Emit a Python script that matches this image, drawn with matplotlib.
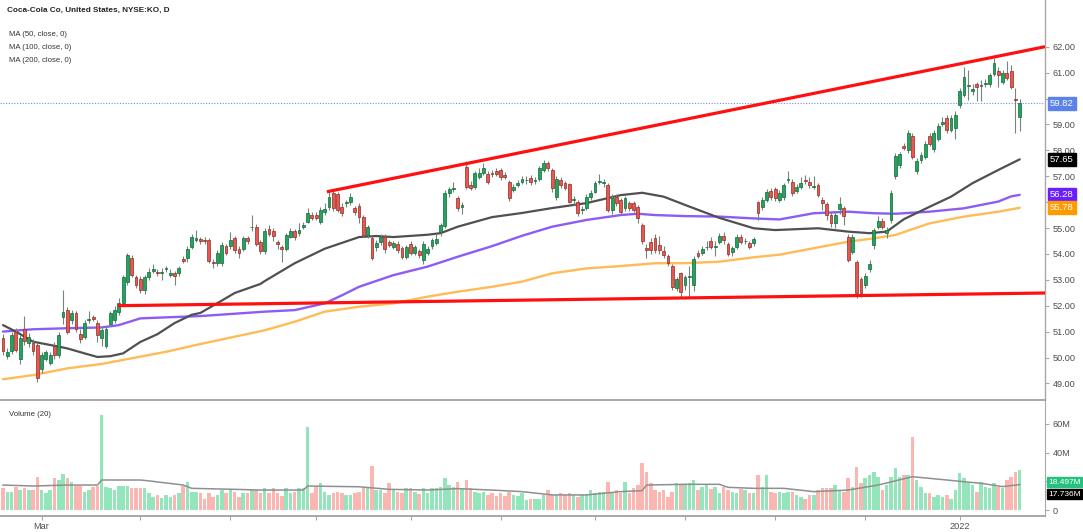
import matplotlib
matplotlib.use('Agg')
import matplotlib.pyplot as plt
import matplotlib.transforms as mtransforms
import numpy as np

# ---------------- data ----------------
title = "Coca-Cola Co, United States, NYSE:KO, D"
legend_lines = ["MA (50, close, 0)", "MA (100, close, 0)", "MA (200, close, 0)"]

opens = [
    50.75, 50.05, 50.25, 51.0, 49.95, 51.1, 50.55, 50.55, 50.5, 49.55,
    49.95, 49.8, 50.45, 50.1, 51.55, 51.85, 51.45, 51.7, 50.9, 50.8,
    51.45, 51.55, 51.35, 50.75, 50.45, 51.3, 51.45, 51.75, 52.1, 52.9,
    53.85, 53.1, 53.05, 52.6, 53.1, 53.35, 53.3, 53.28, 53.42, 53.2,
    53.25, 53.25, 53.82, 53.84, 54.28, 54.55, 54.56, 54.55, 54.55, 53.7,
    53.63, 53.63, 54.3, 54.3, 54.6, 54.2, 54.18, 54.6, 55.02, 55.05,
    54.45, 54.1, 54.95, 54.9, 54.45, 54.28, 54.2, 54.67, 54.87, 54.8,
    55.05, 55.25, 55.5, 55.5, 55.25, 55.6, 55.8, 56.34, 56.3, 55.83,
    55.95, 56.0, 55.76, 55.85, 55.44, 54.73, 54.6, 54.28, 54.45, 54.67,
    54.47, 54.28, 54.38, 54.22, 53.87, 54.38, 54.02, 54.1, 53.77, 54.02,
    54.3, 54.44, 54.86, 55.08, 56.34, 56.5, 56.15, 55.8, 57.37, 56.66,
    56.6, 56.96, 57.14, 57.09, 57.11, 57.19, 57.24, 57.05, 56.79, 56.47,
    56.67, 56.79, 56.84, 56.92, 56.8, 56.88, 57.24, 57.5, 57.24, 56.2,
    56.85, 56.72, 56.68, 56.08, 56.0, 55.68, 55.76, 56.21, 56.4, 56.78,
    56.72, 56.66, 55.7, 56.2, 56.08, 55.76, 55.95, 55.95, 55.82, 55.1,
    54.23, 54.47, 54.6, 54.35, 54.1, 53.9, 53.53, 52.7, 53.25, 52.8,
    53.12, 52.8, 54.05, 54.05, 54.25, 54.51, 54.27, 54.47, 54.69, 54.38,
    54.08, 54.28, 54.66, 54.48, 54.41, 54.41, 56.01, 55.82, 56.1, 56.43,
    56.5, 56.08, 56.21, 56.86, 56.79, 56.44, 56.6, 56.87, 56.79, 56.6,
    56.66, 56.08, 55.93, 55.5, 55.18, 55.72, 55.76, 54.67, 54.09, 53.7,
    53.02, 52.8, 53.4, 54.35, 55.05, 55.28, 54.8, 55.31, 57.0, 57.43,
    58.15, 58.0, 58.55, 57.21, 57.63, 57.73, 58.55, 58.04, 58.42, 59.02,
    59.24, 58.78, 58.85, 59.75, 60.14, 60.5, 60.3, 60.56, 60.5, 60.56,
    60.56, 60.95, 61.07, 60.65, 61.0, 61.07, 60.0, 59.3,
]
closes = [
    50.25, 50.2, 50.85, 50.3, 50.75, 50.65, 50.8, 50.25, 49.2, 50.1,
    50.2, 50.1, 50.1, 50.85, 51.75, 51.0, 51.7, 51.1, 50.7, 51.35,
    51.5, 51.5, 50.85, 51.05, 51.1, 51.7, 51.85, 52.1, 53.1, 53.95,
    53.2, 52.8, 52.6, 53.1, 53.3, 53.4, 53.25, 53.3, 53.45, 53.25,
    53.15, 53.45, 53.74, 54.2, 54.65, 54.63, 54.51, 54.5, 53.73, 53.63,
    54.05, 54.34, 54.05, 54.55, 54.15, 54.03, 54.6, 54.5, 55.05, 54.4,
    54.1, 54.9, 54.78, 54.7, 54.4, 54.2, 54.72, 54.87, 54.67, 54.93,
    55.1, 55.57, 55.4, 55.4, 55.7, 55.75, 56.2, 55.76, 55.7, 55.57,
    56.0, 56.21, 55.63, 55.44, 54.73, 55.03, 53.83, 54.44, 54.64, 54.17,
    54.35, 54.41, 54.15, 53.87, 54.25, 54.02, 54.28, 53.96, 54.4, 54.2,
    54.52, 54.57, 55.12, 56.34, 56.5, 56.55, 55.76, 55.9, 56.6, 56.53,
    57.11, 57.14, 57.31, 56.79, 57.1, 57.09, 56.96, 56.98, 56.15, 56.57,
    56.73, 56.88, 56.86, 56.76, 56.86, 57.3, 57.52, 57.3, 56.53, 56.88,
    56.66, 56.53, 56.02, 56.12, 55.56, 55.72, 56.21, 56.36, 56.72, 56.8,
    56.78, 55.7, 56.15, 55.95, 55.63, 56.15, 55.76, 55.7, 55.37, 54.5,
    54.15, 54.15, 54.15, 54.15, 53.95, 53.63, 52.73, 53.02, 52.54, 53.12,
    53.16, 53.8, 53.92, 54.17, 54.28, 54.28, 54.3, 54.69, 54.54, 53.99,
    54.24, 54.66, 54.47, 54.5, 54.28, 54.56, 55.56, 56.1, 56.4, 56.2,
    56.15, 56.34, 56.66, 56.9, 56.36, 56.57, 56.75, 56.83, 56.66, 56.63,
    56.27, 55.95, 55.5, 55.18, 55.5, 55.93, 55.46, 53.77, 54.64, 52.5,
    52.48, 53.15, 53.6, 54.92, 55.28, 55.05, 54.92, 56.36, 57.78, 57.86,
    58.1, 58.68, 57.75, 57.6, 57.82, 58.24, 58.24, 58.68, 58.94, 59.1,
    58.78, 59.24, 59.36, 60.3, 60.82, 60.52, 60.35, 60.46, 60.52, 60.61,
    60.9, 61.38, 60.91, 60.99, 60.78, 60.46, 59.95, 59.82,
]
highs = [
    50.9, 50.35, 51.0, 51.15, 50.85, 51.6, 50.95, 50.7, 50.55, 50.2,
    50.3, 50.2, 50.6, 51.0, 52.6, 51.95, 51.85, 51.8, 51.1, 51.45,
    51.8, 51.65, 51.45, 51.15, 51.2, 51.8, 52.0, 52.3, 53.2, 54.05,
    53.95, 53.2, 53.15, 53.2, 53.45, 53.6, 53.4, 53.45, 53.55, 53.4,
    53.35, 53.55, 53.9, 54.3, 54.75, 54.92, 54.65, 54.65, 54.6, 53.8,
    54.15, 54.45, 54.4, 54.85, 54.7, 54.3, 54.7, 54.7, 55.5, 55.15,
    54.55, 55.0, 55.1, 55.0, 54.55, 54.35, 54.8, 55.0, 54.95, 55.18,
    55.25, 55.78, 55.6, 55.6, 55.8, 55.95, 56.45, 56.45, 56.4, 55.95,
    56.1, 56.35, 55.85, 55.95, 55.5, 55.1, 54.7, 54.55, 54.75, 54.78,
    54.55, 54.5, 54.48, 54.3, 54.35, 54.48, 54.35, 54.2, 54.5, 54.3,
    54.6, 54.75, 55.2, 56.45, 56.6, 56.78, 56.25, 56.0, 57.6, 56.8,
    57.2, 57.3, 57.5, 57.2, 57.25, 57.3, 57.3, 57.15, 56.85, 56.7,
    56.85, 57.0, 57.0, 57.05, 56.95, 57.4, 57.62, 57.6, 57.3, 57.0,
    56.95, 56.8, 56.75, 56.25, 56.1, 55.85, 56.3, 56.45, 56.8, 57.1,
    56.9, 56.75, 56.3, 56.3, 56.15, 56.25, 56.05, 56.05, 55.9, 55.2,
    54.4, 54.6, 54.75, 54.7, 54.3, 54.0, 53.6, 53.1, 53.3, 53.2,
    53.55, 53.9, 54.15, 54.3, 54.5, 54.65, 54.5, 54.8, 54.85, 54.45,
    54.3, 54.75, 54.75, 54.6, 54.5, 54.65, 56.05, 56.2, 56.5, 56.55,
    56.6, 56.45, 56.75, 57.2, 56.9, 56.7, 56.95, 57.05, 56.95, 57.0,
    56.75, 56.2, 56.0, 55.6, 55.6, 56.2, 55.85, 54.75, 54.75, 53.75,
    53.1, 53.25, 53.75, 55.0, 55.45, 55.4, 55.05, 56.45, 57.9, 57.95,
    58.3, 58.8, 58.65, 57.7, 57.95, 58.35, 58.65, 58.8, 59.05, 59.3,
    59.35, 59.35, 59.5, 60.4, 61.2, 61.1, 60.55, 60.65, 60.7, 60.75,
    61.0, 61.55, 61.2, 61.1, 61.46, 61.3, 60.4, 60.0,
]
lows = [
    50.1, 49.95, 50.15, 50.2, 49.75, 50.5, 50.4, 50.1, 49.05, 49.4,
    49.85, 49.7, 49.95, 50.0, 51.3, 50.9, 51.3, 51.0, 50.55, 50.7,
    51.35, 51.4, 50.6, 50.45, 50.35, 51.2, 51.35, 51.65, 52.0, 52.8,
    53.1, 52.7, 52.5, 52.45, 53.0, 53.25, 53.15, 53.0, 53.3, 53.1,
    52.8, 53.15, 53.65, 53.7, 54.2, 54.45, 54.4, 54.4, 53.65, 53.45,
    53.55, 53.55, 53.95, 54.2, 54.05, 53.85, 54.1, 54.4, 54.9, 54.3,
    54.0, 54.0, 54.7, 54.5, 54.2, 53.7, 54.1, 54.6, 54.55, 54.7,
    54.95, 55.2, 55.3, 55.3, 55.15, 55.5, 55.7, 55.65, 55.6, 55.45,
    55.8, 55.9, 55.5, 55.2, 54.65, 54.6, 53.75, 54.1, 54.35, 54.05,
    54.25, 54.2, 54.05, 53.8, 53.8, 53.95, 53.95, 53.85, 53.6, 53.95,
    54.2, 54.35, 54.7, 55.0, 56.2, 56.4, 55.65, 55.55, 56.5, 56.45,
    56.5, 56.9, 57.05, 56.7, 56.95, 57.0, 56.85, 56.9, 56.05, 56.4,
    56.6, 56.7, 56.7, 56.65, 56.7, 56.8, 57.15, 57.2, 56.4, 56.1,
    56.55, 56.45, 55.95, 55.9, 55.45, 55.55, 55.7, 56.1, 56.35, 56.7,
    56.6, 55.6, 55.55, 55.85, 55.5, 55.65, 55.65, 55.6, 55.2, 54.4,
    53.85, 54.0, 54.05, 54.0, 53.85, 53.55, 52.6, 52.55, 52.35, 52.6,
    52.3, 52.55, 53.85, 53.95, 54.15, 54.2, 53.9, 54.4, 54.4, 53.9,
    53.9, 54.2, 54.4, 54.4, 54.2, 54.3, 55.3, 55.7, 56.0, 56.1,
    56.05, 56.0, 56.1, 56.75, 56.25, 56.35, 56.5, 56.7, 56.55, 56.5,
    56.2, 55.7, 55.3, 55.05, 54.99, 55.55, 55.1, 53.7, 54.0, 52.3,
    52.35, 52.7, 53.3, 54.2, 54.95, 54.95, 54.6, 55.2, 56.9, 57.3,
    58.0, 57.9, 57.65, 57.1, 57.5, 57.65, 58.15, 57.95, 58.35, 58.95,
    58.65, 58.7, 58.45, 59.65, 60.05, 59.95, 60.15, 59.9, 59.9, 60.45,
    60.45, 60.85, 60.45, 60.55, 60.7, 60.35, 58.65, 58.76,
]
# volume in millions
volumes = [
    15, 12.8, 12.8, 16, 14, 15, 14, 14, 23, 14,
    11.6, 14, 22, 21, 25, 22, 19.5, 17, 17, 12.8,
    14, 16, 17, 66, 16, 15.6, 14, 16.5, 16.5, 17,
    15, 15, 15.6, 15, 11.6, 9.3, 10.5, 8.1, 10.5, 9.3,
    10.5, 11.6, 17, 19.5, 12.8, 12.8, 12, 8, 11.6, 9.3,
    10.5, 14, 11.6, 14, 12.8, 9.3, 11.6, 11.6, 14, 14,
    11.6, 15, 12, 15, 11.6, 9.8, 15, 11.6, 12.8, 15,
    15, 58, 11.6, 16, 18.6, 12.8, 10.5, 11.6, 12.8, 12,
    10.5, 10.5, 11.6, 12.8, 15, 15, 31, 14, 14, 11.6,
    19, 14, 12.8, 11.6, 15, 15, 12.8, 11, 15, 11.6,
    15, 15, 16, 22, 17.4, 16, 19.7, 15, 21, 15.6,
    12.8, 12, 12.8, 10.5, 11.6, 9.8, 11.6, 9.8, 12.8, 10.5,
    9.8, 11.6, 7, 8, 7.5, 8, 10.5, 14, 10.5, 10.5,
    11.6, 10.5, 11.6, 10.5, 9.3, 10.5, 10.5, 14, 11.6, 12.8,
    12.8, 19.7, 11.6, 14, 11.6, 19.7, 11.6, 15, 17.4, 33,
    26.7, 18.6, 14, 12.8, 14, 9.3, 12.8, 19, 17.4, 17.4,
    18.6, 21, 14, 16, 17.4, 14.4, 16, 11.6, 16, 14,
    12.8, 12, 14.4, 14, 11.6, 11.6, 24.4, 16, 24.4, 12.8,
    11.6, 12.8, 12, 12.8, 12.8, 10.5, 9.3, 8, 10.5, 10.5,
    14, 15, 15, 15.6, 17.4, 14, 12.8, 22, 16.3, 30.2,
    18.6, 22, 24.4, 26.7, 23.2, 14, 17.4, 23.2, 29, 23.2,
    24.4, 24.4, 51, 20.9, 16.3, 11.6, 11.6, 9.3, 10.5, 9.3,
    10.5, 8, 14, 25.6, 22, 18.6, 17.4, 12.8, 19.7, 16.3,
    15, 18.6, 16.3, 15, 20.9, 23.2, 26.7, 27.9,
]

# moving averages (bar index, value)
ma50_idx = [0, 3, 7, 13, 15, 19, 22, 25, 28, 32, 36, 40, 44, 46, 50, 54, 60, 61, 68, 75,
            83, 87, 91, 99, 102, 106, 114, 121, 128, 136, 144, 149, 154, 159, 167, 175,
            180, 190, 197, 202, 206, 210, 216, 221, 226, 232, 237]
ma50_val = [51.25, 51.0, 50.61, 50.42, 50.35, 50.16, 50.02, 50.05, 50.16, 50.6, 50.9, 51.33,
            51.65, 51.72, 52.1, 52.49, 52.84, 52.95, 53.64, 54.2, 54.65, 54.69, 54.65, 54.74,
            54.8, 55.05, 55.42, 55.58, 55.77, 55.96, 56.27, 56.36, 56.21, 55.89, 55.39, 54.99,
            54.92, 54.99, 54.86, 54.8, 54.86, 55.34, 55.82, 56.21, 56.73, 57.24, 57.65]
ma100_idx = [0, 7, 15, 23, 27, 32, 38, 46, 61, 68, 75, 79, 83, 91, 99, 106, 114, 121, 128,
             136, 144, 148, 152, 159, 167, 175, 181, 189, 197, 203, 208, 216, 224, 232, 235, 237]
ma100_val = [51.0, 51.09, 51.13, 51.16, 51.25, 51.51, 51.55, 51.6, 51.77, 51.83, 52.09, 52.4,
             52.73, 53.18, 53.51, 53.89, 54.3, 54.7, 55.05, 55.31, 55.5, 55.55, 55.5, 55.46,
             55.44, 55.37, 55.33, 55.57, 55.63, 55.57, 55.55, 55.63, 55.76, 56.02, 56.22, 56.28]
ma200_idx = [0, 7, 15, 23, 30, 38, 46, 61, 68, 75, 83, 91, 99, 106, 114, 121, 128, 136, 144,
             152, 159, 167, 175, 181, 189, 197, 203, 208, 216, 224, 232, 237]
ma200_val = [49.16, 49.32, 49.58, 49.75, 49.97, 50.22, 50.52, 51.05, 51.38, 51.77, 51.96,
             52.09, 52.35, 52.54, 52.73, 52.93, 53.25, 53.44, 53.53, 53.64, 53.64, 53.7, 53.87,
             53.97, 54.22, 54.47, 54.6, 54.73, 55.18, 55.44, 55.63, 55.78]
volma_idx = [0, 7, 15, 22, 23, 32, 34, 42, 44, 54, 60, 70, 71, 83, 90, 99, 106, 114, 121, 128,
             136, 144, 149, 150, 159, 167, 169, 175, 182, 189, 197, 204, 212, 220, 224, 228,
             233, 237]
volma_val = [17.4, 16.7, 17.4, 17.4, 20.9, 20.9, 20.3, 17.4, 15.1, 14.4, 13.9, 13.9, 16.7,
             16.2, 14.4, 13.9, 14.9, 13.9, 12.8, 10.5, 10.5, 12.8, 13.5, 17.4, 17.9, 17.9, 15.8,
             15.1, 15.1, 12.8, 13.9, 17.4, 23.2, 20.9, 19.7, 18.6, 16.3, 17.7]

# drawn trend lines (bar index, price)
resistance_idx = [75.5, 242.9]
resistance_val = [56.4, 62.0]
support_idx = [26.8, 242.9]
support_val = [52.0, 52.49]

last_price = 59.82
ma_last = [57.65, 56.28, 55.78]
vol_last = 18.497
volma_last = 17.736

price_ticks = [49, 50, 51, 52, 53, 54, 55, 56, 57, 58, 59, 60, 61, 62]
hidden_price_ticks = [56, 60]          # covered by the value labels in the reference
vol_ticks = [0, 20, 40, 60]
vol_tick_labels = ['0', '', '40M', '60M']   # 20M is covered by the volume label
month_tick_idx = [9, 32, 53, 73, 95, 116, 138, 159, 180, 201, 223]
month_tick_labels = ['Mar', '', '', '', '', '', '', '', '', '', '2022']

# ---------------- styling ----------------
plt.rcParams['font.family'] = ['Liberation Sans', 'DejaVu Sans']
GREEN_B, GREEN_E = '#22a45c', '#13673a'
RED_B, RED_E = '#e9574f', '#8e2b26'
WICK = '#74857c'
VOL_G, VOL_R = '#94e4bc', '#fcb6b2'
AX_GRAY = '#a8a8a8'
LBL = '#4d4d4d'

W, H = 1083, 532
fig = plt.figure(figsize=(W / 100, H / 100), dpi=100)
right_px = 1045
axp = fig.add_axes([0, 1 - 400 / H, right_px / W, 400 / H])
axv = fig.add_axes([0, 1 - 516 / H, right_px / W, 115 / H])

idx = np.arange(len(opens))
o = np.array(opens); c = np.array(closes)
h = np.array(highs); l = np.array(lows)
up = c >= o

xlim = (-0.7, 242.9)

# ---- price panel ----
axp.plot(ma200_idx, ma200_val, color='#ffbb55', lw=1.7, zorder=1.5, solid_capstyle='round')
axp.plot(ma100_idx, ma100_val, color='#8c5cf7', lw=1.7, zorder=1.6, solid_capstyle='round')
axp.plot(ma50_idx, ma50_val, color='#505050', lw=1.6, zorder=1.7, solid_capstyle='round')

axp.vlines(idx, l, h, colors=WICK, lw=0.8, zorder=2)
body_h = np.maximum(np.abs(c - o), 0.025)
axp.bar(idx, body_h, bottom=np.minimum(o, c), width=0.66,
        color=np.where(up, GREEN_B, RED_B), edgecolor=np.where(up, GREEN_E, RED_E),
        linewidth=0.5, zorder=3)

axp.plot(resistance_idx, resistance_val, color='#ff1010', lw=2.3, zorder=4, solid_capstyle='butt')
axp.plot(support_idx, support_val, color='#ff1010', lw=2.3, zorder=4, solid_capstyle='butt')
axp.axhline(last_price, color='#6f8fea', lw=0.8, ls=(0, (1, 1.5)), zorder=1.4)

axp.set_xlim(*xlim)
axp.set_ylim(62 - (400 - 46.7) / 25.9, 62 + 46.7 / 25.9)
axp.yaxis.tick_right()
axp.set_yticks(price_ticks)
axp.set_yticklabels(['' if t in hidden_price_ticks else f"{t:.2f}" for t in price_ticks])
axp.tick_params(axis='y', direction='out', length=3, width=0.8, pad=2.5,
                labelsize=6.6, colors=AX_GRAY, labelcolor=LBL)
axp.set_xticks([])
for s in ['top', 'left']:
    axp.spines[s].set_visible(False)
axp.spines['right'].set_color(AX_GRAY)
axp.spines['right'].set_linewidth(1.0)
axp.spines['bottom'].set_color('#9a9a9a')
axp.spines['bottom'].set_linewidth(1.2)

tr_p = mtransforms.blended_transform_factory(axp.transAxes, axp.transData)
def value_box(ax, tr, y, text, color, size=6.8, x=1.0045, pad=0.22):
    ax.text(x, y, text, transform=tr, ha='left', va='center', fontsize=size,
            color='white', clip_on=False, zorder=10,
            bbox=dict(boxstyle=f'square,pad={pad}', fc=color, ec=color))

value_box(axp, tr_p, last_price, f"{last_price:.2f}", '#5b82e8')
value_box(axp, tr_p, ma_last[0], f"{ma_last[0]:.2f}", '#000000')
value_box(axp, tr_p, ma_last[1], f"{ma_last[1]:.2f}", '#6a1fff')
value_box(axp, tr_p, ma_last[2], f"{ma_last[2]:.2f}", '#ff9a00')

# ---- volume panel ----
vol = np.array(volumes)
axv.bar(idx, vol, width=0.82, color=np.where(up, VOL_G, VOL_R), linewidth=0, zorder=2)
axv.plot(volma_idx, volma_val, color='#8f8f8f', lw=1.1, zorder=3)
axv.set_xlim(*xlim)
axv.set_ylim((510 - 516) * 20 / 28.7, (510 - 401) * 20 / 28.7)
axv.yaxis.tick_right()
axv.set_yticks(vol_ticks)
axv.set_yticklabels(vol_tick_labels)
axv.tick_params(axis='y', direction='out', length=3, width=0.8, pad=2.5,
                labelsize=6.6, colors=AX_GRAY, labelcolor=LBL)
axv.set_xticks(month_tick_idx)
axv.set_xticklabels(month_tick_labels)
axv.tick_params(axis='x', direction='out', length=3, width=0.8, pad=1.5,
                labelsize=6.6, colors=AX_GRAY, labelcolor=LBL)
for s in ['top', 'left']:
    axv.spines[s].set_visible(False)
axv.spines['right'].set_color(AX_GRAY)
axv.spines['bottom'].set_color('#9a9a9a')
axv.spines['bottom'].set_linewidth(1.2)

tr_v = mtransforms.blended_transform_factory(axv.transAxes, axv.transData)
value_box(axv, tr_v, vol_last + 0.8, f"{vol_last:.3f}M", '#25c27f', size=6.0, x=1.003, pad=0.18)
# TradingView shifts overlapping labels; the MA label sits just below
value_box(axv, tr_v, vol_last - 7.6, f"{volma_last:.3f}M", '#000000', size=6.0, x=1.003, pad=0.18)

axv.text(9 / right_px, (510 - 414) * 20 / 28.7, "Volume (20)", transform=tr_v,
         fontsize=5.6, color='#333333', va='center', ha='left')

# ---- header texts ----
fig.text(7 / W, 1 - 10.5 / H, title, fontsize=5.9, fontweight='bold', color='#222222',
         va='center', ha='left')
for k, t in enumerate(legend_lines):
    fig.text(9 / W, 1 - (34.5 + 12.8 * k) / H, t, fontsize=5.6, color='#333333',
             va='center', ha='left')

fig.savefig('out.png', dpi=100)
